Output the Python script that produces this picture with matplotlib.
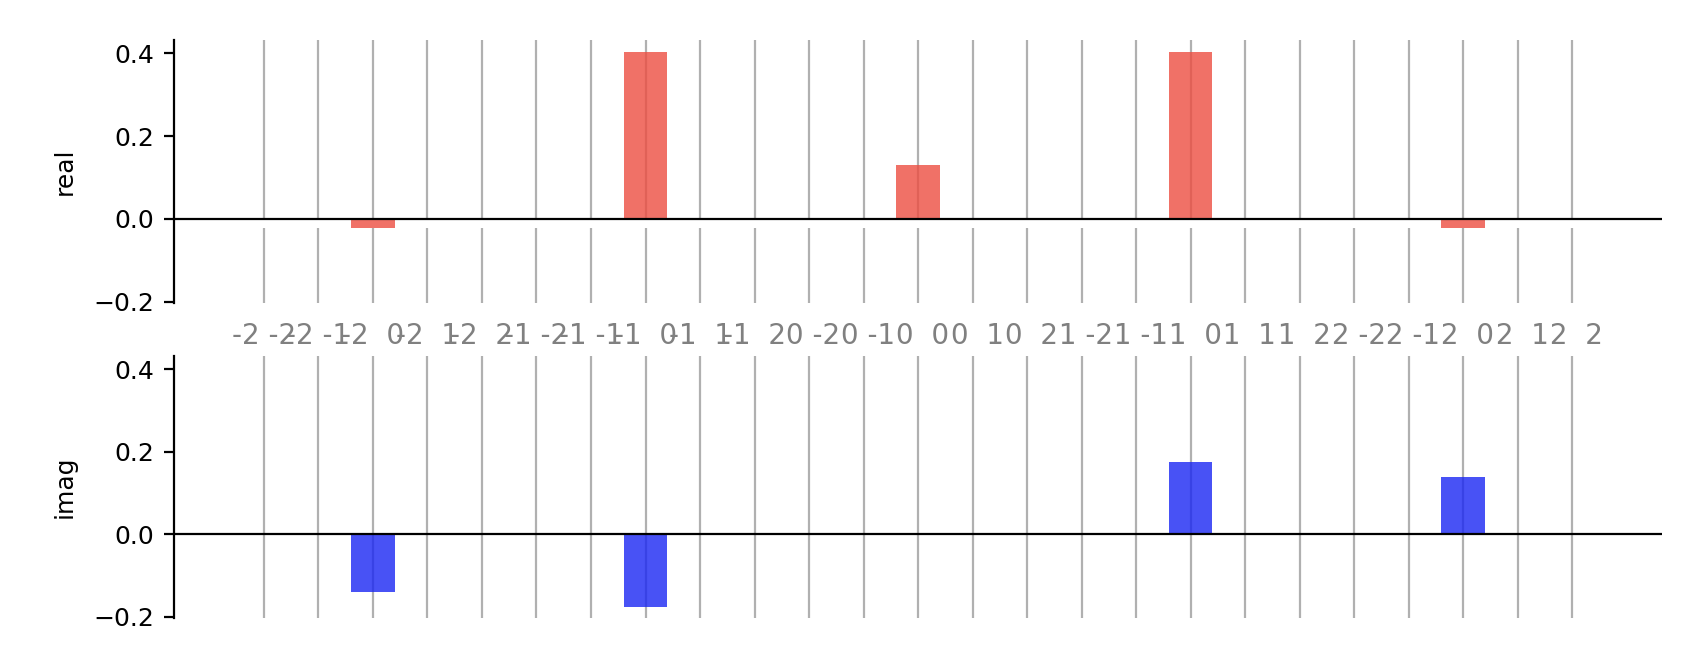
import numpy as np
import matplotlib
matplotlib.use('Agg')
import matplotlib.pyplot as plt

# index pairs (i, j) for the 5x5 grid
pairs = [(i, j) for i in range(-2, 3) for j in range(-2, 3)]
tick_labels = ['%2d %2d' % p for p in pairs]

# nonzero entries only
real_idx = [2, 7, 12, 17, 22]
real_vals = [-0.021, 0.403, 0.131, 0.403, -0.021]
imag_idx = [2, 7, 17, 22]
imag_vals = [-0.139, -0.176, 0.176, 0.139]

n = len(pairs)
real = np.zeros(n)
real[real_idx] = real_vals
imag = np.zeros(n)
imag[imag_idx] = imag_vals
x = np.arange(n)

plt.rcParams['font.size'] = 9

fig = plt.figure(figsize=(8.48, 3.29), dpi=200)
ax1 = fig.add_axes([0.1026, 0.5395, 0.8774, 0.3995])
ax2 = fig.add_axes([0.1026, 0.0608, 0.8774, 0.3982], sharex=ax1, sharey=ax1)

for ax, vals, col, name in [(ax1, real, '#ed4d41', 'real'), (ax2, imag, '#1a27f3', 'imag')]:
    ax.bar(x, vals, width=0.8, color=col, alpha=0.8, zorder=2)
    ax.grid(axis='x', color='#b0b0b0', lw=0.8)
    ax.axhline(0, color='black', lw=0.8, zorder=3)
    ax.set_ylabel(name, labelpad=6)
    for s in ['top', 'right', 'bottom']:
        ax.spines[s].set_visible(False)
    ax.set_xticks(x)

# white strip just below zero in the real panel
ax1.axhspan(min(real_vals), 0, color='white', zorder=1.7, lw=0)

ax1.set_xticklabels(tick_labels, fontsize=10)
ax1.tick_params(axis='x', length=0, pad=7, labelcolor='gray')
ax2.tick_params(axis='x', length=0, labelbottom=False)

ax1.set_xlim(-1.65, n + 0.65)
ax1.set_ylim(-0.203, 0.432)
ax1.set_yticks([-0.2, 0.0, 0.2, 0.4])

fig.savefig('out.png')
